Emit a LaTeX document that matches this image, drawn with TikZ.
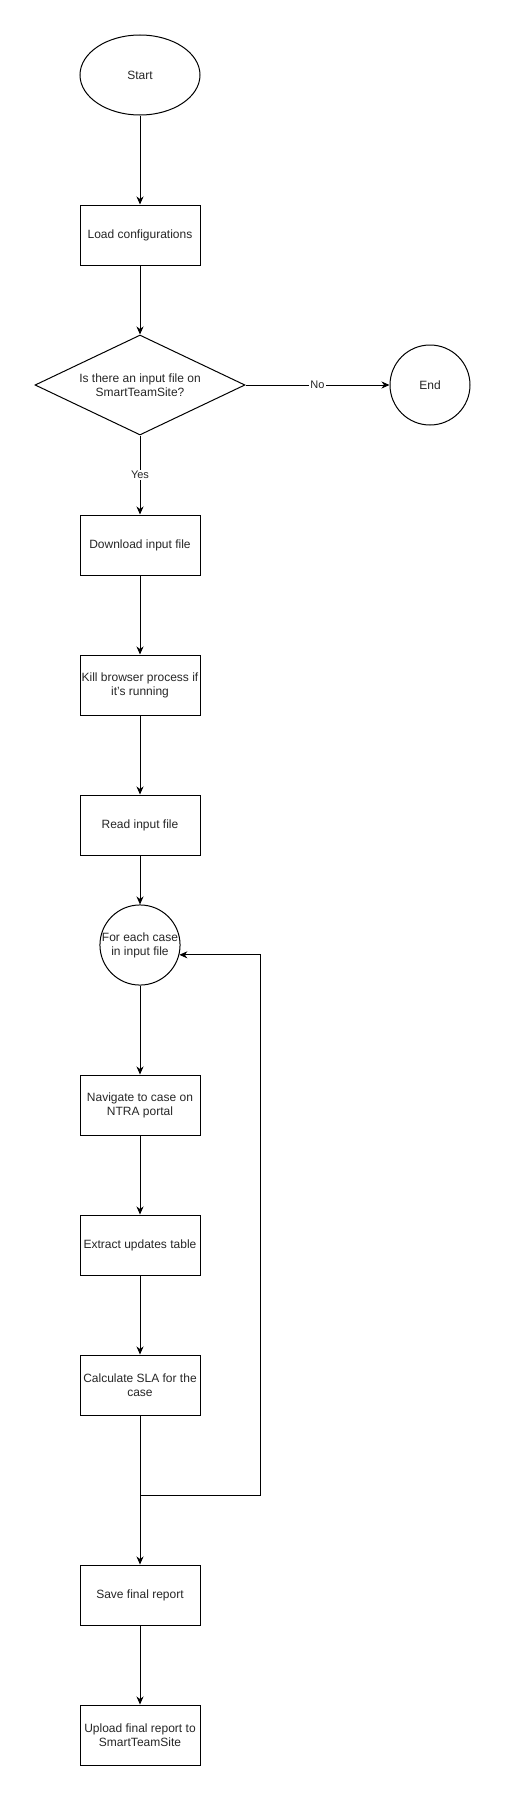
\documentclass[tikz,border=0pt]{standalone}
\usepackage{fontspec}
\setmainfont{Liberation Sans}
\usetikzlibrary{shapes.geometric,arrows.meta}

\begin{document}
\begin{tikzpicture}[x=1pt,y=-1pt,line width=1pt,
    >={Stealth[length=8pt,width=7pt,inset=2.5pt]},
    every node/.style={font=\fontsize{12}{14}\selectfont, text=black!85, align=center}]

        \useasboundingbox (0,0) rectangle (506,1801);

        \begin{scope}[every node/.append style={draw, inner sep=0pt}]
          \node[ellipse, minimum width=120pt, minimum height=80pt] (start) at (140,75) {Start};
          \node[rectangle, minimum width=120pt, minimum height=60pt] (load) at (140,235) {Load configurations};
          \node[diamond, aspect=2.1, minimum width=210pt, minimum height=100pt] (dec) at (140,385) {Is there an input file on\\SmartTeamSite?};
          \node[circle, minimum size=80pt] (end) at (430,385) {End};
          \node[rectangle, minimum width=120pt, minimum height=60pt] (down) at (140,545) {Download input file};
          \node[rectangle, minimum width=120pt, minimum height=60pt] (kill) at (140,685) {Kill browser process if\\it's running};
          \node[rectangle, minimum width=120pt, minimum height=60pt] (read) at (140,825) {Read input file};
          \node[circle, minimum size=80pt] (each) at (140,945) {For each case\\in input file};
          \node[rectangle, minimum width=120pt, minimum height=60pt] (nav) at (140,1105) {Navigate to case on\\NTRA portal};
          \node[rectangle, minimum width=120pt, minimum height=60pt] (extr) at (140,1245) {Extract updates table};
          \node[rectangle, minimum width=120pt, minimum height=60pt] (calc) at (140,1385) {Calculate SLA for the\\case};
          \node[rectangle, minimum width=120pt, minimum height=60pt] (save) at (140,1595) {Save final report};
          \node[rectangle, minimum width=120pt, minimum height=60pt] (upl) at (140,1735) {Upload final report to\\SmartTeamSite};
        \end{scope}

        \coordinate (join) at (140,1495);
        \coordinate (back) at (260,1495);

        \begin{scope}[every node/.append style={fill=white, inner sep=1pt, font=\fontsize{11}{13}\selectfont}]
          \begin{scope}[every edge/.style={draw,->}]
            \path (start) edge (load);
            \path (load)  edge (dec);
            \path (dec)   edge node {No} (end);
            \path (dec)   edge node {Yes} (down);
            \path (down)  edge (kill);
            \path (kill)  edge (read);
            \path (read)  edge (each);
            \path (each)  edge (nav);
            \path (nav)   edge (extr);
            \path (extr)  edge (calc);
            \path (calc)  edge (save);
            \path (save)  edge (upl);
          \end{scope}
          \draw[->] (join) -- (back) |- (each.-14.5);
        \end{scope}

      \end{tikzpicture}
\end{document}
